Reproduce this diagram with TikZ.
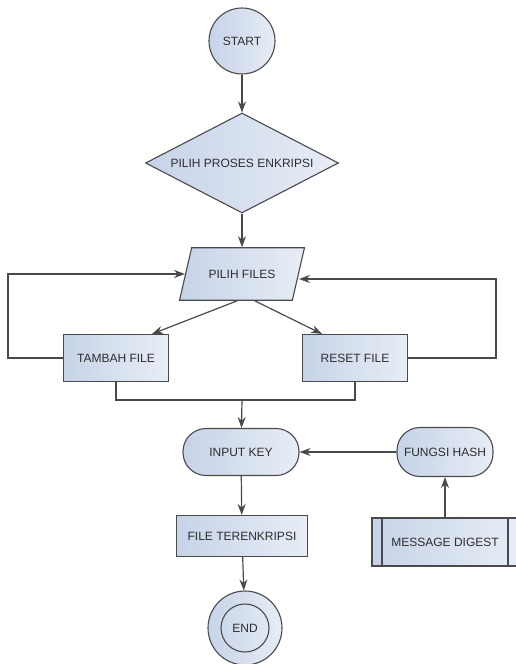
\documentclass[tikz,border=0pt]{standalone}
\usepackage{fontspec}
\setmainfont{Liberation Sans}
\usepackage{tikz}
\usetikzlibrary{arrows.meta,shapes.geometric}
\definecolor{fcfill}{HTML}{C6D3E8}
\definecolor{fcfill2}{HTML}{E8EDF6}
\definecolor{fcline}{HTML}{4A4A4A}
\definecolor{fctext}{HTML}{2E2E2E}
\tikzset{
  flownode/.style = {align=center, inner sep=0pt, text centered,
    draw=fcline, line width=1.1pt, left color=fcfill, right color=fcfill2,
    text=fctext, font=\fontsize{12}{14}\selectfont},
  fc_circ/.style = {flownode, circle, minimum size=66pt},% debut
  fc_dec/.style = {flownode, diamond, aspect=1.93,
    minimum width=193pt, minimum height=100pt},% decision
  fc_io/.style = {flownode, trapezium, trapezium left angle=77,
    trapezium right angle=103, inner xsep=17pt, inner ysep=22pt},% entree
  fc_box/.style = {flownode, rectangle,
    minimum width=105pt, minimum height=47pt},% traitement
  fc_rnd/.style = {flownode, rectangle, rounded corners=23pt,
    minimum width=116pt, minimum height=47pt},% arrondi
  fc_sub/.style = {fc_box, minimum width=146pt, minimum height=48pt,
    path picture={
      \draw[fcline, line width=1.1pt]
        ([xshift=10pt]path picture bounding box.north west) --
        ([xshift=10pt]path picture bounding box.south west)
        ([xshift=-10pt]path picture bounding box.north east) --
        ([xshift=-10pt]path picture bounding box.south east);}},% sous-programme
  fc_end/.style = {fc_circ, minimum size=74pt,
    path picture={\draw[fcline, line width=1.1pt]
      (path picture bounding box.center) circle (24pt);}},% fin
  fc_arr/.style = {draw=fcline, line width=1.2pt,
    -{Stealth[length=11pt,width=8pt]}},
  fc_line/.style = {draw=fcline, line width=1.2pt}
}
\begin{document}
\begin{tikzpicture}[x=1pt, y=-1pt]
\useasboundingbox (0,0) rectangle (515,664);
\node [fc_circ] (start) at (242,41) {START};
\node [fc_dec] (proses) at (242,163) {PILIH PROSES ENKRIPSI};
\node [fc_io] (files) at (242,274) {PILIH FILES};
\node [fc_box] (tambah) at (116,358) {TAMBAH FILE};
\node [fc_box] (reset) at (355,358) {RESET FILE};
\coordinate (merge) at (242,400);
\node [fc_rnd] (input) at (241,452) {INPUT KEY};
\node [fc_rnd, minimum width=96pt, minimum height=49pt] (hash) at (445,452) {FUNGSI HASH};
\node [fc_box, minimum width=131pt, minimum height=41pt] (enc) at (242,536) {FILE TERENKRIPSI};
\node [fc_sub] (digest) at (445,542) {MESSAGE DIGEST};
\node [fc_end] (stop) at (245,628) {END};

\draw [fc_arr] (start) -- (proses);
\draw [fc_arr] (proses) -- (files);
\draw [fc_arr] ([xshift=22pt]files.south west) -- ([xshift=36pt]tambah.north);
\draw [fc_arr] ([xshift=-14pt]files.south east) -- ([xshift=-33pt]reset.north);
\draw [fc_arr] (tambah.west) -- ++(-55,0) |- (files.west);
\draw [fc_arr] (reset.east) -- ++(88,0) |- ([yshift=-5pt]files.east);
\draw [fc_line] (tambah.south) |- (merge) -| (reset.south);
\draw [fc_arr] (merge) -- (input);
\draw [fc_arr] (hash) -- (input);
\draw [fc_arr] (digest) -- (hash);
\draw [fc_arr] (input) -- (enc);
\draw [fc_arr] (enc) -- (stop);
\end{tikzpicture}
\end{document}
